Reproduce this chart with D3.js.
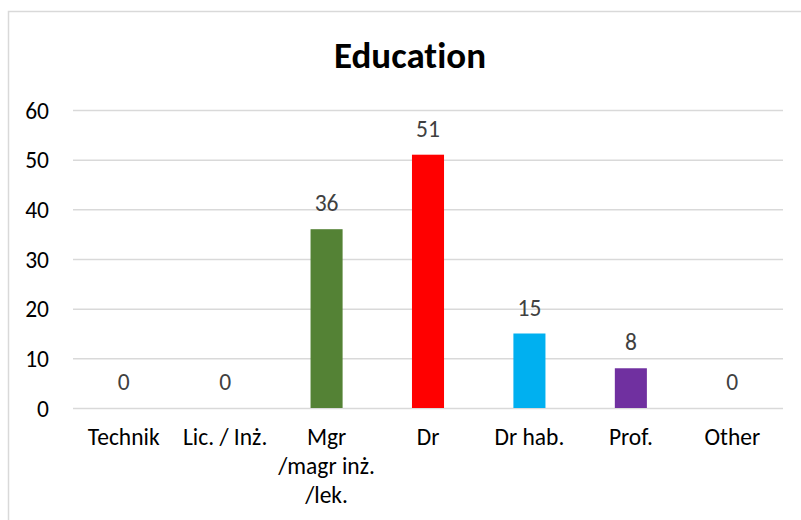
<!DOCTYPE html>
<html>
<head>
<meta charset="utf-8">
<script src="https://cdn.jsdelivr.net/npm/d3@7"></script>
<style>
  html, body { margin: 0; padding: 0; background: #fff; }
  svg { display: block; }
  text { font-family: Carlito, Calibri, Lato, "Noto Sans", sans-serif; font-variant-ligatures: none; }
</style>
</head>
<body>
<svg id="chart" width="801" height="520"></svg>
<script>
// Education level counts
const categories = ["Technik", "Lic. / Inż.", "Mgr\n/magr inż.\n/lek.", "Dr", "Dr hab.", "Prof.", "Other"];
const values = [0, 0, 36, 51, 15, 8, 0];
const barColors = ["#4472C4", "#ED7D31", "#548235", "#FF0000", "#00B0F0", "#7030A0", "#A5A5A5"];
const yTicks = [0, 10, 20, 30, 40, 50, 60];
const title = "Education";

const svg = d3.select("#chart");
const W = 801, H = 520;
const plot = { left: 73, right: 783, top: 110, bottom: 408 };
const fontFamily = "Carlito, Calibri, Lato, 'Noto Sans', sans-serif";
const labelSize = 23.5;

// chart frame
svg.append("rect")
  .attr("x", 8.5).attr("y", 11.5)
  .attr("width", W + 20).attr("height", H + 20)
  .attr("fill", "#fff")
  .attr("stroke", "#d9d9d9")
  .attr("stroke-width", 1.5);

const x = d3.scaleBand()
  .domain(categories)
  .range([plot.left, plot.right])
  .paddingInner(0.684)
  .paddingOuter(0.342);

const y = d3.scaleLinear()
  .domain([0, 60])
  .range([plot.bottom, plot.top]);

// horizontal gridlines
const yAxis = d3.axisLeft(y)
  .tickValues(yTicks)
  .tickSize(-(plot.right - plot.left))
  .tickPadding(24)
  .tickFormat(d3.format("d"));

const gy = svg.append("g")
  .attr("transform", `translate(${plot.left},0)`)
  .call(yAxis);
gy.select(".domain").remove();
gy.selectAll(".tick line")
  .attr("stroke", "#d9d9d9")
  .attr("stroke-width", 1.5);
gy.selectAll(".tick text")
  .attr("fill", "#000")
  .attr("font-size", labelSize)
  .attr("dy", "0.34em")
  .attr("font-family", fontFamily);

// category axis
const xAxis = d3.axisBottom(x).tickSize(0).tickPadding(0);
const gx = svg.append("g")
  .attr("transform", `translate(0,${plot.bottom})`)
  .call(xAxis);
gx.select(".domain").remove();
gx.selectAll(".tick text").each(function (d) {
  const t = d3.select(this);
  t.text(null)
    .attr("y", 0)
    .attr("dy", null)
    .attr("fill", "#000")
    .attr("font-size", labelSize)
    .attr("font-family", fontFamily);
  d.split("\n").forEach((line, i) => {
    t.append("tspan")
      .attr("x", 0)
      .attr("y", 37 + i * 28.8)
      .text(line);
  });
});

// bars
svg.append("g")
  .selectAll("rect")
  .data(categories)
  .join("rect")
  .attr("x", d => x(d))
  .attr("width", x.bandwidth())
  .attr("y", (d, i) => y(values[i]))
  .attr("height", (d, i) => y(0) - y(values[i]))
  .attr("fill", (d, i) => barColors[i]);

// value labels
svg.append("g")
  .selectAll("text")
  .data(categories)
  .join("text")
  .attr("x", d => x(d) + x.bandwidth() / 2)
  .attr("y", (d, i) => y(values[i]) - 18)
  .attr("text-anchor", "middle")
  .attr("font-size", labelSize)
  .attr("fill", "#404040")
  .text((d, i) => values[i]);

// title
svg.append("text")
  .attr("x", 410)
  .attr("y", 68)
  .attr("text-anchor", "middle")
  .attr("font-size", 37)
  .attr("font-weight", "bold")
  .attr("fill", "#000")
  .text(title);
</script>
</body>
</html>
